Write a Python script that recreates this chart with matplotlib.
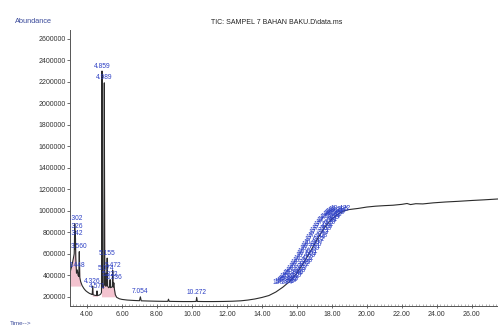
import matplotlib
matplotlib.use("Agg")
import matplotlib.pyplot as plt
import numpy as np
from matplotlib.ticker import MultipleLocator, FormatStrFormatter

plt.rcParams['font.family'] = ['Liberation Sans', 'DejaVu Sans']

# TIC trace (time in min, abundance)
time = [3.04, 3.12, 3.20, 3.27, 3.302, 3.315, 3.326, 3.334, 3.342, 3.36,
        3.40, 3.448, 3.49, 3.53, 3.560, 3.59, 3.64, 3.72, 3.82, 3.92,
        4.02, 4.14, 4.26, 4.30, 4.326, 4.35, 4.45, 4.54, 4.571, 4.60,
        4.70, 4.78, 4.83, 4.859, 4.88, 4.93, 4.96, 4.989, 5.02, 5.05,
        5.074, 5.10, 5.13, 5.155, 5.18, 5.24, 5.29, 5.322, 5.35, 5.42,
        5.45, 5.472, 5.50, 5.536, 5.57, 5.62, 5.70, 5.85, 6.00, 6.30,
        6.70, 7.00, 7.054, 7.10, 7.50, 8.00, 8.40, 8.62, 8.66, 8.70,
        9.00, 9.50, 10.00, 10.24, 10.272, 10.31, 10.70, 11.20, 11.80, 12.30,
        12.80, 13.20, 13.60, 14.00, 14.40, 14.80, 15.20, 15.60, 16.00, 16.40,
        16.80, 17.20, 17.60, 18.00, 18.40, 18.70, 19.00, 19.50, 20.00, 20.50,
        21.00, 21.50, 22.00, 22.30, 22.50, 22.80, 23.20, 23.80, 24.50, 25.20,
        26.00, 26.70, 27.50]
abundance = [430000, 480000, 540000, 600000, 880000, 640000, 810000, 650000, 745000, 560000,
             420000, 450000, 400000, 390000, 620000, 380000, 340000, 305000, 278000, 258000,
             245000, 232000, 224000, 222000, 300000, 220000, 214000, 212000, 255000, 212000,
             216000, 225000, 240000, 2300000, 300000, 280000, 320000, 2190000, 320000, 300000,
             420000, 300000, 310000, 560000, 300000, 285000, 290000, 360000, 285000, 290000,
             300000, 445000, 290000, 330000, 270000, 220000, 195000, 182000, 176000, 170000,
             166000, 164000, 200000, 163000, 161000, 159000, 158000, 158000, 178000, 158000,
             157000, 156000, 156000, 157000, 195000, 157000, 156000, 156000, 157000, 159000,
             163000, 170000, 180000, 194000, 212000, 245000, 290000, 345000, 420000, 520000,
             630000, 745000, 850000, 925000, 975000, 1000000, 1012000, 1022000, 1035000, 1043000,
             1048000, 1052000, 1060000, 1068000, 1058000, 1066000, 1064000, 1074000, 1082000, 1088000,
             1096000, 1102000, 1110000]

# labelled peaks
peak_rt = [3.302, 3.326, 3.342, 3.448, 3.560, 4.326, 4.571, 4.859, 4.989,
           5.074, 5.155, 5.322, 5.472, 5.536, 7.054, 10.272]
peak_labels = ["3.302", "3.326", "3.342", "3.448", "3.560", "4.326", "4.571",
               "4.859", "4.989", "5.074", "5.155", "5.322", "5.472", "5.536",
               "7.054", "10.272"]

# dense cluster of labels on the rising baseline
cluster_labels = ["15.214", "15.301", "15.388", "15.452", "15.533", "15.612", "15.689",
                  "15.774", "15.846", "15.918", "16.003", "16.087", "16.162", "16.245",
                  "16.318", "16.402", "16.489", "16.563", "16.641", "16.720", "16.781",
                  "16.855", "16.937", "17.012", "17.094", "17.168", "17.243", "17.321",
                  "17.398", "17.476", "17.552", "17.630", "17.708", "17.781", "17.859",
                  "17.934", "18.011", "18.087", "18.162", "18.240", "18.317", "18.395",
                  "18.472"]

# integrated regions (start, end, baseline)
integ_start = [3.04, 4.28, 4.80]
integ_end = [3.64, 4.62, 5.62]
integ_base = [300000, 205000, 200000]

t = np.array(time)
a = np.array(abundance)

fig = plt.figure(figsize=(4.98, 3.29), dpi=100)
ax = fig.add_axes([0.1406, 0.070, 0.8594, 0.839])

for s, e, b in zip(integ_start, integ_end, integ_base):
    m = (t >= s) & (t <= e)
    ax.fill_between(t[m], a[m], b, color='#f0b4c4', alpha=0.8, lw=0, zorder=1)

ax.plot(t, a, color='#2b2b2b', lw=0.8, zorder=2)

blue = '#2c3fc4'
for rt, lab in zip(peak_rt, peak_labels):
    ax.annotate(lab, (rt, a[time.index(rt)]), xytext=(0, 1), textcoords='offset points',
                ha='center', va='bottom', fontsize=4.8, color=blue, zorder=3,
                annotation_clip=True, clip_on=True)

for lab in cluster_labels:
    rt = float(lab)
    ax.annotate(lab, (rt, np.interp(rt, t, a)), xytext=(0, 0.5), textcoords='offset points',
                ha='center', va='bottom', fontsize=4.8, color=blue, zorder=3)

ax.set_xlim(3.03, 27.5)
ax.set_ylim(115000, 2682000)
ax.xaxis.set_major_locator(MultipleLocator(2))
ax.xaxis.set_minor_locator(MultipleLocator(0.2))
ax.xaxis.set_major_formatter(FormatStrFormatter('%.2f'))
ax.set_yticks(np.arange(200000, 2600001, 200000))
ax.yaxis.set_major_formatter(FormatStrFormatter('%d'))

for side in ['top', 'right']:
    ax.spines[side].set_visible(False)
for side in ['left', 'bottom']:
    ax.spines[side].set_linewidth(0.7)
    ax.spines[side].set_color('#555555')

ax.tick_params(axis='y', labelsize=5, length=2, width=0.5, pad=1, colors='#333333')
ax.tick_params(axis='x', which='major', labelsize=5, length=3, width=0.5, pad=2,
               direction='inout', colors='#333333')
ax.tick_params(axis='x', which='minor', length=1.5, width=0.4, direction='in', colors='#777777')

fig.text(0.03, 0.936, 'Abundance', fontsize=5.3, color='#3a4a9a', va='center')
fig.text(0.556, 0.933, 'TIC: SAMPEL 7 BAHAN BAKU.D\\data.ms', fontsize=5, color='#222222',
         ha='center', va='center')
fig.text(0.02, 0.018, 'Time-->', fontsize=4.5, color='#3a4a9a', va='center')

fig.savefig('out.png', dpi=100)
